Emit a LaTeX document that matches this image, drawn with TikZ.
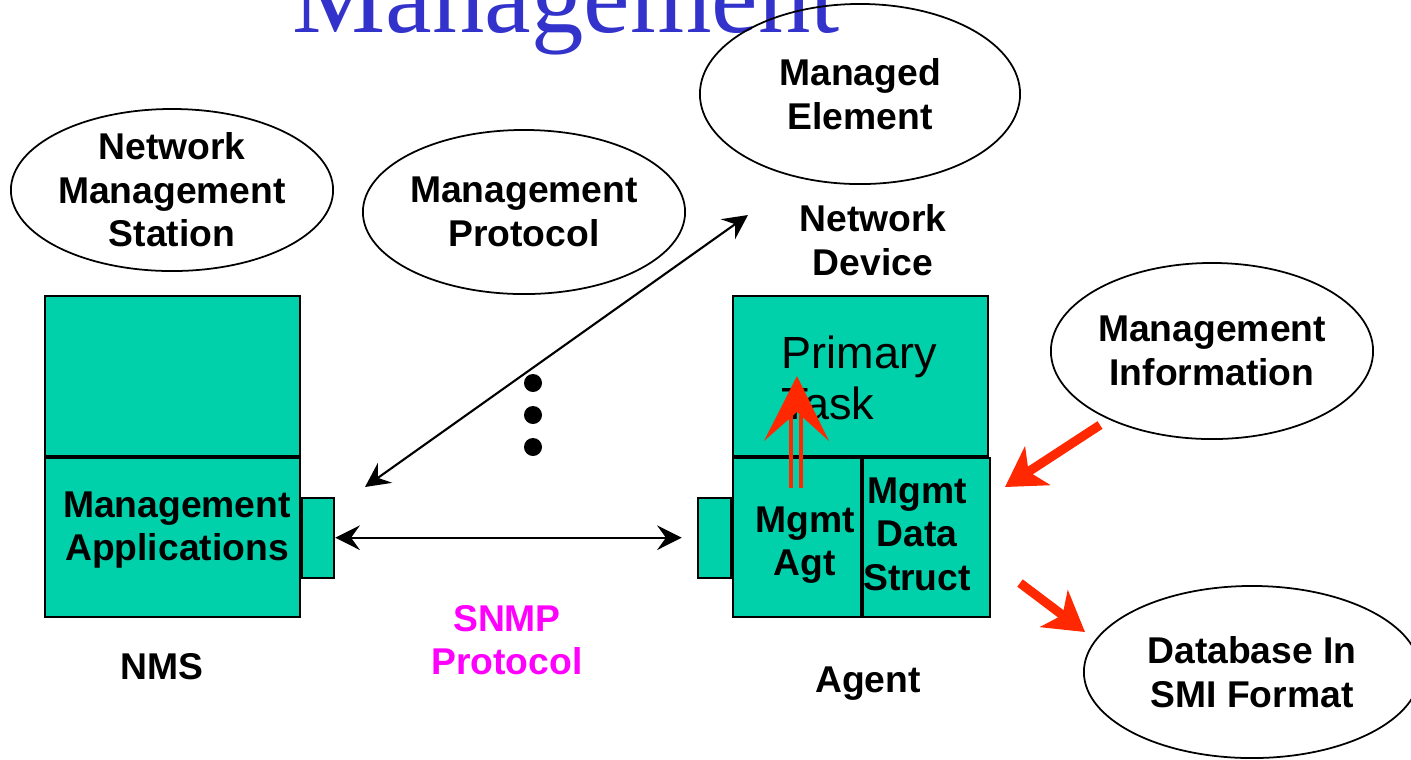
\documentclass[tikz,border=0pt]{standalone}
\usepackage{fontspec}
\setmainfont{Liberation Sans}
\newfontfamily\titlefont{Liberation Serif}
\usetikzlibrary{positioning,arrows.meta,shapes.geometric}
\definecolor{boxcol}{RGB}{0,209,170}
\definecolor{titlecol}{RGB}{51,51,204}
\definecolor{redarr}{RGB}{255,40,0}
\definecolor{snmpcol}{RGB}{255,0,255}

\tikzset{
  lbl/.style={font=\fontsize{10.6}{12.4}\selectfont\bfseries, align=center},
  bubble/.style={lbl, draw, ellipse, line width=0.5pt, inner sep=0pt},
  box/.style={draw, fill=boxcol, line width=0.6pt, inner sep=0pt},
  biarrow/.style={{Stealth[length=7pt,width=7pt,inset=2.5pt]}-{Stealth[length=7pt,width=7pt,inset=2.5pt]}, line width=0.6pt},
  redarrow/.style={-{Stealth[length=11pt,width=13pt,inset=3pt]}, redarr, line width=2.6pt}
}

\begin{document}
\begin{tikzpicture}[x=0.01cm, y=-0.01cm]
  \useasboundingbox (0,0) rectangle (1411,759);
  \clip (0,0) rectangle (1411,759);

  % title, cut off at the top
  \node[anchor=base, text=titlecol, font=\titlefont\fontsize{29.8}{32}\selectfont, inner sep=0pt] (title) at (566,32) {Management};

  % ellipses
  \node[bubble, minimum width=3.2cm, minimum height=1.42cm] (station) at (172,190) {Network\\Management\\Station};
  \node[bubble, minimum width=3.2cm, minimum height=1.64cm] (mprot) at (524,212) {Management\\Protocol};
  \node[bubble, minimum width=3.2cm, minimum height=1.8cm] (melem) at (860,94) {Managed\\Element};
  \node[bubble, minimum width=3.2cm, minimum height=1.76cm] (minfo) at (1212,351) {Management\\Information};
  \node[bubble, minimum width=3.36cm, minimum height=1.72cm] (smidb) at (1252,672) {Database In\\SMI Format};

  % NMS side
  \node[box, minimum width=2.55cm, minimum height=1.6cm] (nmstop) at (172.5,376) {};
  \node[box, lbl, minimum width=2.55cm, minimum height=1.59cm, below=0pt of nmstop] (nmsapp) {};
  \node[lbl] (nmsapptxt) at (177,530) {Management\\Applications};
  \node[box, minimum width=0.32cm, minimum height=0.8cm, right=0pt of nmsapp] (nmsport) {};

  % agent side
  \node[box, minimum width=2.55cm, minimum height=1.6cm] (agttop) at (860.5,376) {};
  \node[box, minimum width=1.28cm, minimum height=1.59cm, below right=0pt and 0pt of agttop.south west] (agtagt) {};
  \node[box, minimum width=1.27cm, minimum height=1.59cm, right=0pt of agtagt] (agtdata) {};
  \node[box, minimum width=0.33cm, minimum height=0.8cm, left=0pt of agtagt] (agtport) {};
  \node[lbl] (agttxt) at (805,545) {Mgmt\\Agt};
  \node[lbl] (datatxt) at (917,534) {Mgmt\\Data\\Struct};
  \node[anchor=west, align=left, inner sep=0pt, font=\fontsize{12.8}{14.5}\selectfont] (ptask) at (781,378) {Primary\\Task};

  % labels
  \node[lbl] (device) at (873,240) {Network\\Device};
  \node[lbl] (nmslbl) at (162,667) {NMS};
  \node[lbl, text=snmpcol] (snmp) at (507,640) {SNMP\\Protocol};
  \node[lbl] (agentlbl) at (868,684) {Agent};

  % connectors
  \draw[biarrow, shorten >=0.15cm] (nmsport.east) -- (agtport.west);
  \coordinate (protA) at (365,487);
  \coordinate (protB) at (748,215);
  \draw[biarrow] (protA) -- (protB);
  \foreach \y in {383,415,447}
    \fill (533,\y) circle[radius=0.09cm];

  % red arrows
  \coordinate (infoA) at (1100,425);
  \coordinate (infoB) at (1005,487);
  \coordinate (smiA) at (1020,583);
  \coordinate (smiB) at (1085,632);
  \draw[redarrow] (infoA) -- (infoB);
  \draw[redarrow] (smiA) -- (smiB);

  % double red arrow inside the agent
  \coordinate (taskTip) at (797,376);
  \draw[redarr, line width=0.9pt] (791,488) -- (791,415);
  \draw[redarr, line width=0.9pt] (801,488) -- (801,415);
  \fill[redarr] (taskTip) -- (829,441) -- (797,412) -- (764,441) -- cycle;
\end{tikzpicture}
\end{document}
